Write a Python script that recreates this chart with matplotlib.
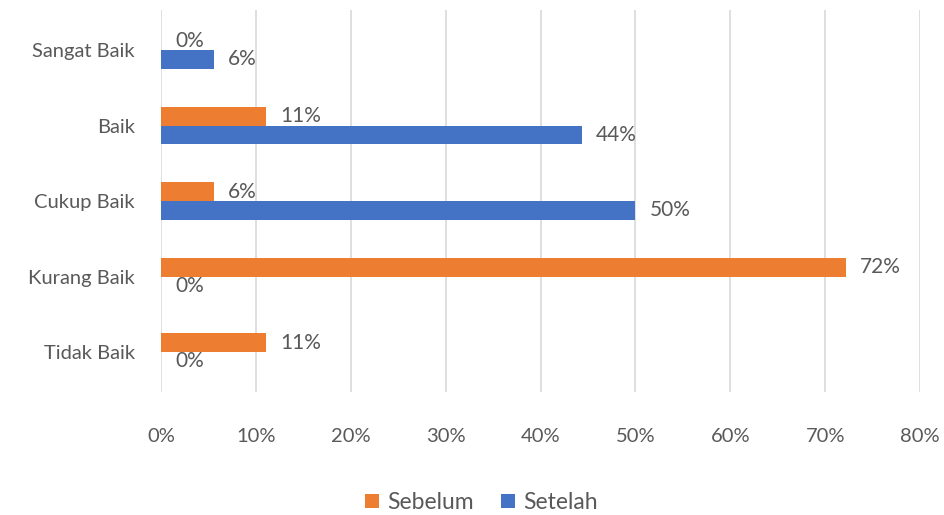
import matplotlib.pyplot as plt
import numpy as np

# data (Excel-style horizontal bar chart)
kategori = ['Tidak Baik', 'Kurang Baik', 'Cukup Baik', 'Baik', 'Sangat Baik']
sebelum = [0.111, 0.722, 0.056, 0.111, 0.0]
setelah = [0.0, 0.0, 0.50, 0.444, 0.056]

orange = '#ED7D31'
blue = '#4472C4'
txt = '#595959'

plt.rcParams['font.family'] = ['Lato', 'DejaVu Sans']

fig = plt.figure(figsize=(9.44, 5.15), dpi=100)
ax = fig.add_axes([0.1706, 0.2388, 0.8040, 0.7418])

y = np.arange(len(kategori))
h = 0.25
b1 = ax.barh(y + h / 2, sebelum, height=h, color=orange, label='Sebelum', zorder=3)
b2 = ax.barh(y - h / 2, setelah, height=h, color=blue, label='Setelah', zorder=3)

# value labels right of each bar
for bars, vals in [(b1, sebelum), (b2, setelah)]:
    for bar, v in zip(bars, vals):
        ax.annotate(f'{round(v * 100):.0f}%', (v, bar.get_y() + bar.get_height() / 2),
                    xytext=(14, 0), textcoords='offset pixels',
                    va='center', ha='left', fontsize=15, color=txt)

ax.set_xlim(0, 0.8)
ax.set_ylim(-0.53, 4.53)
ticks = np.arange(0, 0.81, 0.1)
ax.set_xticks(ticks)
ax.set_xticklabels([f'{int(round(t * 100))}%' for t in ticks])
ax.set_yticks(y)
ax.set_yticklabels(kategori)
ax.tick_params(axis='both', length=0, labelsize=14.5, colors=txt)
ax.tick_params(axis='x', pad=26)
ax.tick_params(axis='y', pad=19)
ax.grid(axis='x', color='#D9D9D9', linewidth=1.2, zorder=0)
for s in ax.spines.values():
    s.set_visible(False)

fig.legend(handles=[b1, b2], loc='lower center', bbox_to_anchor=(0.51, -0.036), ncol=2,
           frameon=False, fontsize=16.5, labelcolor=txt, handlelength=0.6, handleheight=0.6,
           handletextpad=0.35, columnspacing=1.2)

fig.savefig('out.png', dpi=100)
